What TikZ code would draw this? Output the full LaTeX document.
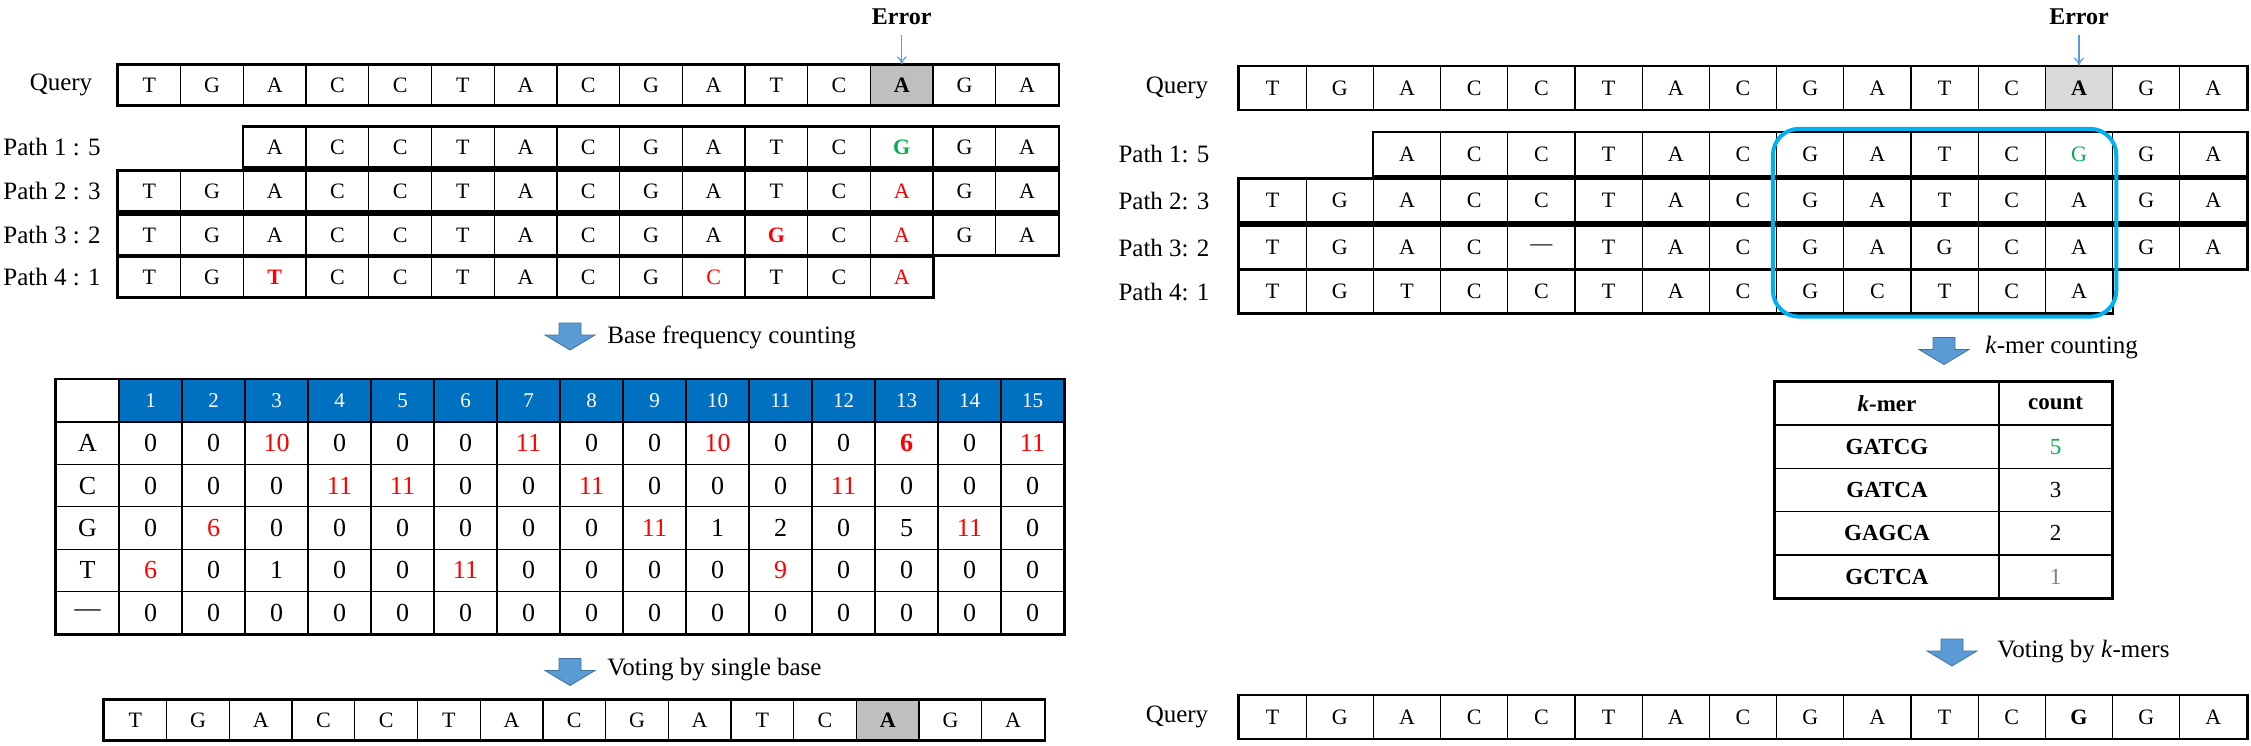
\documentclass[tikz,border=0pt]{standalone}
\usepackage{fontspec}
\setmainfont{Liberation Serif}
\usetikzlibrary{backgrounds,fit,arrows.meta}

\definecolor{hdrblue}{RGB}{0,112,192}
\definecolor{arrowblue}{RGB}{91,155,213}
\definecolor{arrowedge}{RGB}{65,113,156}
\definecolor{kcyan}{RGB}{0,176,240}
\definecolor{errred}{RGB}{255,0,0}
\definecolor{okgreen}{RGB}{0,176,80}
\definecolor{qgrayL}{RGB}{191,191,191}
\definecolor{qgrayR}{RGB}{217,217,217}
\definecolor{lowgray}{RGB}{128,128,128}

\newcommand{\rd}[1]{\textcolor{errred}{#1}}
\newcommand{\rdb}[1]{\textcolor{errred}{\textbf{#1}}}
\newcommand{\gn}[1]{\textcolor{okgreen}{#1}}
\newcommand{\gnb}[1]{\textcolor{okgreen}{\textbf{#1}}}

\tikzset{
  lcell/.style={draw, line width=0.65pt, minimum width=31.35pt, minimum height=20pt, inner sep=0pt, font=\fontsize{11}{12}\selectfont},
  rcell/.style={lcell, minimum width=33.6pt, minimum height=21.5pt},
  tcell/.style={lcell, minimum width=31.5pt, minimum height=21.2pt, font=\fontsize{13}{14}\selectfont},
  hcell/.style={tcell, fill=hdrblue, text=white, font=\fontsize{10.5}{12}\selectfont},
  kcell/.style={lcell, minimum height=21.6pt, font=\fontsize{11.5}{13}\selectfont},
  rowframe/.style={draw, line width=1pt},
  lab/.style={inner sep=0pt, font=\fontsize{12.5}{14}\selectfont},
  errlab/.style={inner sep=0pt, font=\fontsize{12}{14}\selectfont\bfseries},
  errarrow/.style={draw=arrowblue, line width=0.6pt, -{To[length=4pt,width=5pt]}, shorten <=5pt},
  kbox/.style={draw=kcyan, line width=2pt, rounded corners=13pt, inner sep=1.5pt},
  blockdown/.pic={\filldraw[fill=arrowblue, draw=arrowedge, line width=0.4pt] (-11,-13.5) -- (11,-13.5) -- (11,-1.5) -- (25,-1.5) -- (0,13.5) -- (-25,-1.5) -- (-11,-1.5) -- cycle;}
}

\begin{document}
\begin{tikzpicture}[x=0.5pt,y=-0.5pt]
\useasboundingbox (0,0) rectangle (2251,745);

% ---- left: single base voting ----
\node[lab] (lqlab) at (61,85) {Query};
\foreach \b [count=\i] in {T,G,A,C,C,T,A,C,G,A,T,C,\textbf{A},G,A}
  \node[lcell] (lq\i) at ({118+62.7*(\i-0.5)},85) {\b};
\draw[rowframe] (lq1.north west) rectangle (lq15.south east);
\begin{scope}[on background layer]
  \fill[qgrayL] (lq13.north west) rectangle (lq13.south east);
\end{scope}
\node[errlab] (lerr) at ({118+62.7*12.5},17) {Error};
\draw[errarrow] (lerr) -- (lq13.north);

\node[lab, anchor=west] (lp1lab) at (3,147) {Path 1 : 5};
\foreach \b [count=\i from 3] in {A,C,C,T,A,C,G,A,T,C,\gnb{G},G,A}
  \node[lcell] (lp1-\i) at ({118+62.7*(\i-0.5)},147) {\b};
\draw[rowframe] (lp1-3.north west) rectangle (lp1-15.south east);

\node[lab, anchor=west] (lp2lab) at (3,191) {Path 2 : 3};
\foreach \b [count=\i] in {T,G,A,C,C,T,A,C,G,A,T,C,\rd{A},G,A}
  \node[lcell] (lp2-\i) at ({118+62.7*(\i-0.5)},191) {\b};
\draw[rowframe] (lp2-1.north west) rectangle (lp2-15.south east);

\node[lab, anchor=west] (lp3lab) at (3,235) {Path 3 : 2};
\foreach \b [count=\i] in {T,G,A,C,C,T,A,C,G,A,\rdb{G},C,\rd{A},G,A}
  \node[lcell] (lp3-\i) at ({118+62.7*(\i-0.5)},235) {\b};
\draw[rowframe] (lp3-1.north west) rectangle (lp3-15.south east);

\node[lab, anchor=west] (lp4lab) at (3,277) {Path 4 : 1};
\foreach \b [count=\i] in {T,G,\rdb{T},C,C,T,A,C,G,\rd{C},T,C,\rd{A}}
  \node[lcell] (lp4-\i) at ({118+62.7*(\i-0.5)},277) {\b};
\draw[rowframe] (lp4-1.north west) rectangle (lp4-13.south east);

\pic at (570,336.5) {blockdown};
\node[lab, anchor=west] (cap1) at (607,337) {Base frequency counting};

% frequency table
\node[tcell] (t0) at (87.5,400.5) {};
\foreach \n in {1,...,15}
  \node[hcell] (th\n) at ({119+63*(\n-0.5)},400.5) {\n};
\foreach \lab [count=\r] in {A,C,G,T,---}
  \node[tcell] (tr\r) at (87.5,{422+42.4*(\r-0.5)}) {\lab};
\foreach \v [count=\j] in {0,0,\rd{10},0,0,0,\rd{11},0,0,\rd{10},0,0,\rdb{6},0,\rd{11}}
  \node[tcell] (tA\j) at ({119+63*(\j-0.5)},443.2) {\v};
\foreach \v [count=\j] in {0,0,0,\rd{11},\rd{11},0,0,\rd{11},0,0,0,\rd{11},0,0,0}
  \node[tcell] (tC\j) at ({119+63*(\j-0.5)},485.6) {\v};
\foreach \v [count=\j] in {0,\rd{6},0,0,0,0,0,0,\rd{11},1,2,0,5,\rd{11},0}
  \node[tcell] (tG\j) at ({119+63*(\j-0.5)},528) {\v};
\foreach \v [count=\j] in {\rd{6},0,1,0,0,\rd{11},0,0,0,0,\rd{9},0,0,0,0}
  \node[tcell] (tT\j) at ({119+63*(\j-0.5)},570.4) {\v};
\foreach \v [count=\j] in {0,0,0,0,0,0,0,0,0,0,0,0,0,0,0}
  \node[tcell] (tD\j) at ({119+63*(\j-0.5)},612.8) {\v};
\draw[rowframe] (t0.north west) rectangle (tD15.south east);

\pic at (570,672) {blockdown};
\node[lab, anchor=west] (cap2) at (607,670) {Voting by single base};

\foreach \b [count=\i] in {T,G,A,C,C,T,A,C,G,A,T,C,\textbf{A},G,A}
  \node[lcell] (lv\i) at ({104+62.7*(\i-0.5)},720) {\b};
\draw[rowframe] (lv1.north west) rectangle (lv15.south east);
\begin{scope}[on background layer]
  \fill[qgrayL] (lv13.north west) rectangle (lv13.south east);
\end{scope}

% ---- right: k-mer voting ----
\node[lab] (rqlab) at (1177,88) {Query};
\foreach \b [count=\i] in {T,G,A,C,C,T,A,C,G,A,T,C,\textbf{A},G,A}
  \node[rcell] (rq\i) at ({1239+67.2*(\i-0.5)},88) {\b};
\draw[rowframe] (rq1.north west) rectangle (rq15.south east);
\begin{scope}[on background layer]
  \fill[qgrayR] (rq13.north west) rectangle (rq13.south east);
\end{scope}
\node[errlab] (rerr) at ({1239+67.2*12.5},17) {Error};
\draw[errarrow] (rerr) -- (rq13.north);

\node[lab] (rp1lab) at (1164,154) {Path 1: 5};
\foreach \b [count=\i from 3] in {A,C,C,T,A,C,G,A,T,C,\gn{G},G,A}
  \node[rcell] (rp1-\i) at ({1239+67.2*(\i-0.5)},154) {\b};
\draw[rowframe] (rp1-3.north west) rectangle (rp1-15.south east);

\node[lab] (rp2lab) at (1164,200.5) {Path 2: 3};
\foreach \b [count=\i] in {T,G,A,C,C,T,A,C,G,A,T,C,A,G,A}
  \node[rcell] (rp2-\i) at ({1239+67.2*(\i-0.5)},200.5) {\b};
\draw[rowframe] (rp2-1.north west) rectangle (rp2-15.south east);

\node[lab] (rp3lab) at (1164,247.5) {Path 3: 2};
\foreach \b [count=\i] in {T,G,A,C,---,T,A,C,G,A,G,C,A,G,A}
  \node[rcell] (rp3-\i) at ({1239+67.2*(\i-0.5)},247.5) {\b};
\draw[rowframe] (rp3-1.north west) rectangle (rp3-15.south east);

\node[lab] (rp4lab) at (1164,291.5) {Path 4: 1};
\foreach \b [count=\i] in {T,G,T,C,C,T,A,C,G,C,T,C,A}
  \node[rcell] (rp4-\i) at ({1239+67.2*(\i-0.5)},291.5) {\b};
\draw[rowframe] (rp4-1.north west) rectangle (rp4-13.south east);

\node[kbox, fit=(rp1-9)(rp4-13)] (kwin) {};

\pic at (1944,351) {blockdown};
\node[lab, anchor=west] (cap3) at (1985,348) {\textit{k}-mer counting};

% k-mer table
\node[kcell, minimum width=112pt] (km0) at (1887,403.5) {\textbf{\textit{k}-mer}};
\node[kcell, minimum width=56.5pt] (kc0) at (2055.5,403.5) {\textbf{count}};
\foreach \km/\c [count=\r] in {GATCG/\gn{5},GATCA/3,GAGCA/2,GCTCA/\textcolor{lowgray}{1}}
{
  \node[kcell, minimum width=112pt] (km\r) at (1887,{403.5+43.25*\r}) {\textbf{\km}};
  \node[kcell, minimum width=56.5pt] (kc\r) at (2055.5,{403.5+43.25*\r}) {\c};
}
\draw[rowframe] (km0.north west) rectangle (kc4.south east);

\pic at (1952,652.5) {blockdown};
\node[lab, anchor=west] (cap4) at (1997,652) {Voting by \textit{k}-mers};

\node[lab] (rvlab) at (1177,717) {Query};
\foreach \b [count=\i] in {T,G,A,C,C,T,A,C,G,A,T,C,\textbf{G},G,A}
  \node[rcell] (rv\i) at ({1239+67.2*(\i-0.5)},717) {\b};
\draw[rowframe] (rv1.north west) rectangle (rv15.south east);
\end{tikzpicture}
\end{document}
